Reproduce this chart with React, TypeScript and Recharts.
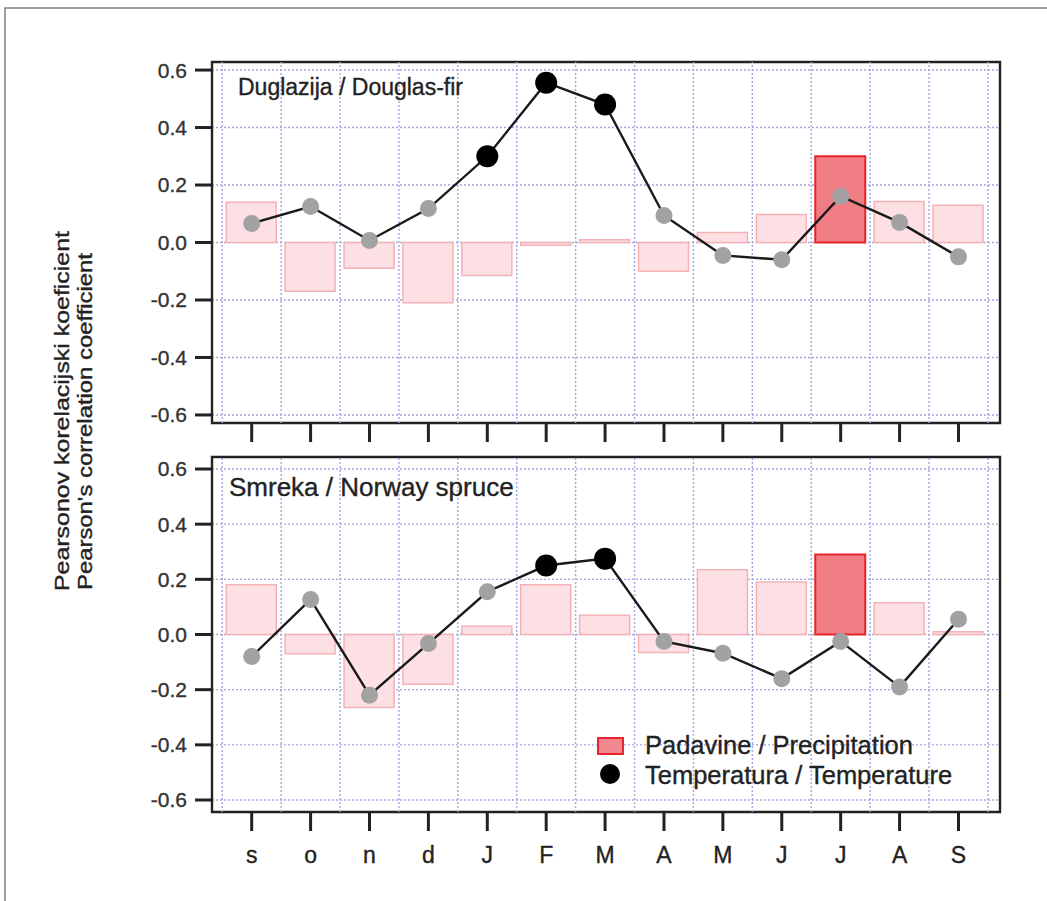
import React from "react";
import {
  ComposedChart,
  Bar,
  Line,
  XAxis,
  YAxis,
  CartesianGrid,
  ReferenceLine,
  ReferenceArea,
  Cell,
  Legend,
} from "recharts";

// Mjeseci: s o n d (prethodna godina) + J..S (tekuća godina)
const months = ["s", "o", "n", "d", "J", "F", "M", "A", "M", "J", "J", "A", "S"];
const yTicks = [-0.6, -0.4, -0.2, 0, 0.2, 0.4, 0.6];

// Duglazija / Douglas-fir
const douglasPrecip = [0.14, -0.17, -0.09, -0.21, -0.115, -0.01, 0.01, -0.1, 0.035, 0.097, 0.3, 0.143, 0.13];
const douglasPrecipSig = [false, false, false, false, false, false, false, false, false, false, true, false, false];
const douglasTemp = [0.066, 0.125, 0.007, 0.118, 0.3, 0.556, 0.48, 0.094, -0.045, -0.06, 0.161, 0.07, -0.05];
const douglasTempSig = [false, false, false, false, true, true, true, false, false, false, false, false, false];

// Smreka / Norway spruce
const sprucePrecip = [0.18, -0.07, -0.265, -0.18, 0.03, 0.18, 0.07, -0.065, 0.235, 0.19, 0.29, 0.115, 0.01];
const sprucePrecipSig = [false, false, false, false, false, false, false, false, false, false, true, false, false];
const spruceTemp = [-0.08, 0.127, -0.22, -0.033, 0.155, 0.25, 0.275, -0.025, -0.068, -0.16, -0.025, -0.19, 0.055];
const spruceTempSig = [false, false, false, false, false, true, true, false, false, false, false, false, false];

const FONT = "'Liberation Sans', Arial, Helvetica, sans-serif";
const INK = "#222";
const GRID = "#a5a5e4";
const FRAME = "#222";
const X_DOMAIN: [number, number] = [-0.674, 12.705];
const xTicks = months.map((_, i) => i);
const xBounds = [...months.map((_, i) => i - 0.5), months.length - 0.5];

const BAR_LIGHT = { fill: "#fde0e3", stroke: "#f4b2b7" };
const BAR_SIG = { fill: "#f07d83", stroke: "#e8232c" };

// malo "deblji" tekst, kao na originalu
const textStyle = { fontFamily: FONT, fill: INK, stroke: INK, strokeWidth: 0.35 };

interface PanelProps {
  precip: number[];
  precipSig: boolean[];
  temp: number[];
  tempSig: boolean[];
  yMax: number;
  height: number;
  top: number;
  marginTop: number;
  xAxisHeight: number;
  showLabels: boolean;
  showLegend: boolean;
}

function Panel(p: PanelProps) {
  const data = months.map((m, i) => ({
    idx: i,
    month: m,
    precip: p.precip[i],
    temp: p.temp[i],
    pSig: p.precipSig[i],
    tSig: p.tempSig[i],
  }));

  const renderDot = (props: any) => {
    const { cx, cy, index, payload } = props;
    if (cx == null || cy == null) return <g key={"d" + index} />;
    const sig = payload.tSig;
    return (
      <circle
        key={"d" + index}
        cx={cx}
        cy={cy}
        r={sig ? 11 : 8.5}
        fill={sig ? "#000" : "#a2a2a2"}
        stroke="none"
      />
    );
  };

  const legendContent = () => (
    <svg width={440} height={60} style={{ display: "block", overflow: "visible" }}>
      <rect x={8} y={2} width={25} height={16} fill="#f38990" stroke="#e8262e" strokeWidth={2} />
      <text x={55} y={18} fontSize={25.5} {...textStyle}>
        Padavine / Precipitation
      </text>
      <circle cx={20} cy={38} r={10} fill="#000" />
      <text x={55} y={48} fontSize={25.5} {...textStyle}>
        Temperatura / Temperature
      </text>
    </svg>
  );

  return (
    <div style={{ position: "absolute", left: 0, top: p.top }}>
      <ComposedChart
        width={1047}
        height={p.height}
        data={data}
        margin={{ top: p.marginTop, right: 47, bottom: 0, left: 0 }}
      >
        <CartesianGrid vertical={false} stroke={GRID} strokeDasharray="2 2" strokeWidth={1.4} />
        {xBounds.map((b) => (
          <ReferenceLine key={b} x={b} stroke={GRID} strokeDasharray="2 2" strokeWidth={1.4} />
        ))}
        <XAxis
          dataKey="idx"
          type="number"
          domain={X_DOMAIN}
          ticks={xTicks}
          interval={0}
          height={p.xAxisHeight}
          axisLine={false}
          tickSize={19}
          tickMargin={16}
          tickLine={{ stroke: FRAME, strokeWidth: 3 }}
          tick={p.showLabels ? { fontSize: 23, ...textStyle } : () => <g />}
          tickFormatter={(v: number) => months[v] ?? ""}
        />
        <YAxis
          type="number"
          domain={[-p.yMax, p.yMax]}
          ticks={yTicks}
          interval={0}
          width={212}
          axisLine={false}
          tickSize={17}
          tickMargin={8}
          tickLine={{ stroke: FRAME, strokeWidth: 3 }}
          tick={{ fontSize: 21, ...textStyle, fill: "#333", stroke: "#333" }}
          tickFormatter={(v: number) => v.toFixed(1)}
        />
        <Bar dataKey="precip" name="Padavine / Precipitation" barSize={50} isAnimationActive={false}>
          {data.map((d, i) => {
            const c = d.pSig ? BAR_SIG : BAR_LIGHT;
            return <Cell key={i} fill={c.fill} stroke={c.stroke} strokeWidth={d.pSig ? 2 : 1.5} />;
          })}
        </Bar>
        <Line
          dataKey="temp"
          name="Temperatura / Temperature"
          stroke="#1a1a1a"
          strokeWidth={2.4}
          dot={renderDot}
          activeDot={false}
          isAnimationActive={false}
        />
        <ReferenceArea
          x1={X_DOMAIN[0]}
          x2={X_DOMAIN[1]}
          y1={-p.yMax}
          y2={p.yMax}
          fill="none"
          stroke={FRAME}
          strokeWidth={2.4}
          ifOverflow="visible"
        />
        {p.showLegend && (
          <Legend
            layout="horizontal"
            verticalAlign="middle"
            align="center"
            content={legendContent}
            wrapperStyle={{ position: "absolute", left: 590, top: 286, width: 440, height: 60 }}
          />
        )}
      </ComposedChart>
    </div>
  );
}

export default function App() {
  return (
    <div style={{ position: "relative", width: 1047, height: 901, background: "#fff", overflow: "hidden" }}>
      <style>{"body{margin:0}"}</style>
      <Panel
        precip={douglasPrecip}
        precipSig={douglasPrecipSig}
        temp={douglasTemp}
        tempSig={douglasTempSig}
        yMax={0.628}
        height={450}
        top={0}
        marginTop={62}
        xAxisHeight={27}
        showLabels={false}
        showLegend={false}
      />
      <Panel
        precip={sprucePrecip}
        precipSig={sprucePrecipSig}
        temp={spruceTemp}
        tempSig={spruceTempSig}
        yMax={0.6435}
        height={451}
        top={450}
        marginTop={7}
        xAxisHeight={89}
        showLabels={true}
        showLegend={true}
      />
      <svg
        width={1047}
        height={901}
        style={{ position: "absolute", left: 0, top: 0, pointerEvents: "none" }}
      >
        <rect x={5} y={8} width={1100} height={1000} fill="none" stroke="#808080" strokeWidth={1.5} />
        <text x={238} y={95} fontSize={23} {...textStyle}>
          Duglazija / Douglas-fir
        </text>
        <text x={229} y={496} fontSize={26} {...textStyle}>
          Smreka / Norway spruce
        </text>
        <text
          transform="translate(69,591) rotate(-90)"
          fontSize={19.5}
          {...textStyle}
          textLength={360}
          lengthAdjust="spacingAndGlyphs"
        >
          Pearsonov korelacijski koeficient
        </text>
        <text
          transform="translate(92,590) rotate(-90)"
          fontSize={19.5}
          {...textStyle}
          textLength={337}
          lengthAdjust="spacingAndGlyphs"
        >
          Pearson's correlation coefficient
        </text>
      </svg>
    </div>
  );
}
